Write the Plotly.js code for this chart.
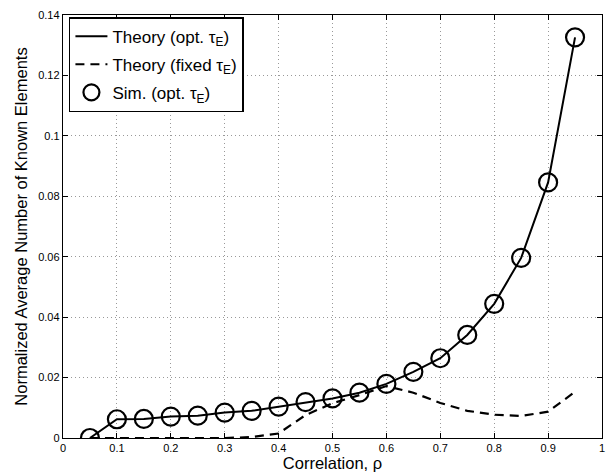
<!DOCTYPE html>
<html>
<head>
<meta charset="utf-8">
<script src="https://cdn.plot.ly/plotly-3.0.1.min.js"></script>
<style>html,body{margin:0;padding:0;background:#fff;}#chart{width:608px;height:474px;}</style>
</head>
<body>
<div id="chart"></div>
<script>
var rho = [0.05,0.10,0.15,0.20,0.25,0.30,0.35,0.40,0.45,0.50,0.55,0.60,0.65,0.70,0.75,0.80,0.85,0.90,0.95];
var theoryOpt = [0.0000,0.0062,0.0063,0.0071,0.0074,0.0084,0.0090,0.0104,0.0119,0.0131,0.0150,0.0179,0.0219,0.0264,0.0341,0.0444,0.0596,0.0846,0.1326];
var theoryFixed = [0.0000,0.0000,0.0000,0.0000,0.0000,0.0000,0.0003,0.0015,0.0076,0.0115,0.0142,0.0172,0.0150,0.0116,0.0090,0.0077,0.0073,0.0087,0.0153];
var simOpt = [0.0000,0.0062,0.0063,0.0071,0.0074,0.0084,0.0090,0.0104,0.0119,0.0131,0.0150,0.0179,0.0219,0.0264,0.0341,0.0444,0.0596,0.0846,0.1326];
var xTicks = [0,0.1,0.2,0.3,0.4,0.5,0.6,0.7,0.8,0.9,1];
var xTickText = ['0','0.1','0.2','0.3','0.4','0.5','0.6','0.7','0.8','0.9','1'];
var yTicks = [0,0.02,0.04,0.06,0.08,0.1,0.12,0.14];
var yTickText = ['0','0.02','0.04','0.06','0.08','0.1','0.12','0.14'];

var font = 'Liberation Sans, Arial, Helvetica, sans-serif';
var traces = [
  {x: rho, y: theoryOpt, mode: 'lines', name: 'Theory (opt. τ<sub>E</sub>)', legendgroup: 'a',
   line: {color: '#000', width: 2}},
  {x: rho, y: theoryFixed, mode: 'lines', name: 'Theory (fixed τ<sub>E</sub>)', legendgroup: 'b',
   line: {color: '#000', width: 2.2, dash: '9px,6px'}},
  {x: rho, y: simOpt, mode: 'markers', name: 'Sim. (opt. τ<sub>E</sub>)', legendgroup: 'c',
   marker: {symbol: 'circle-open', size: 18, color: '#000', line: {width: 2.2, color: '#000'}}}
];
var axisCommon = {
  showline: true, linecolor: '#000', linewidth: 1.2, mirror: 'ticks',
  ticks: 'inside', ticklen: 5, tickcolor: '#000', tickwidth: 1,
  showgrid: true, gridcolor: '#999', griddash: '1px,3px', gridwidth: 1,
  zeroline: false, tickfont: {family: font, size: 11, color: '#000'}
};
var layout = {
  width: 608, height: 474,
  margin: {l: 63, r: 6, t: 15, b: 36},
  paper_bgcolor: '#fff', plot_bgcolor: '#fff',
  font: {family: font, color: '#000'},
  showlegend: true,
  legend: {x: 0.011, y: 0.995, xanchor: 'left', yanchor: 'top',
    bgcolor: '#fff', bordercolor: '#000', borderwidth: 1.5,
    font: {family: font, size: 17, color: '#000'}, tracegroupgap: 3, itemwidth: 32},
  xaxis: Object.assign({}, axisCommon, {range: [0, 1], tickvals: xTicks, ticktext: xTickText,
    title: {text: 'Correlation, ρ', font: {family: font, size: 16.5, color: '#000'}, standoff: 2}}),
  yaxis: Object.assign({}, axisCommon, {range: [0, 0.14], tickvals: yTicks, ticktext: yTickText,
    title: {text: 'Normalized Average Number of Known Elements', font: {family: font, size: 16.5, color: '#000'}, standoff: 6}})
};
Plotly.newPlot('chart', traces, layout, {displayModeBar: false, staticPlot: true});
</script>
</body>
</html>
